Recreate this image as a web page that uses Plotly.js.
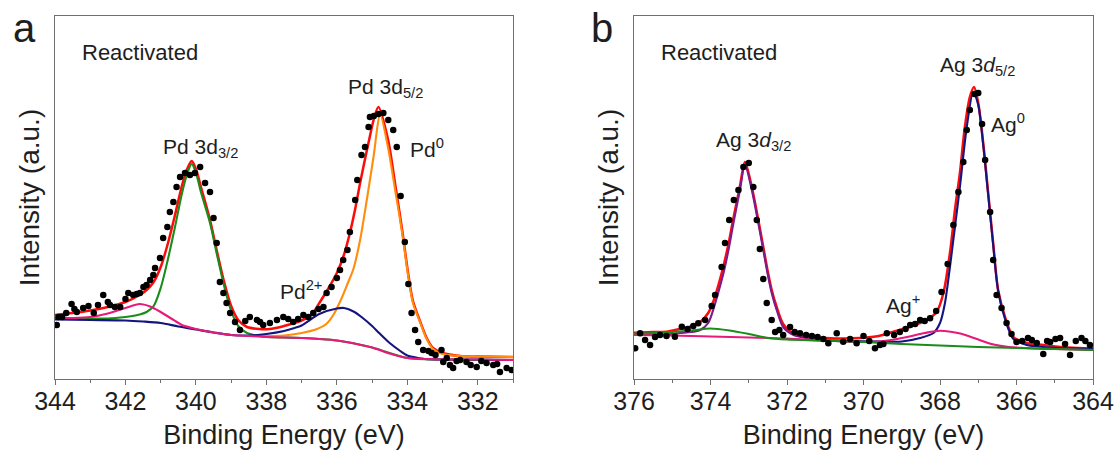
<!DOCTYPE html>
<html>
<head>
<meta charset="utf-8">
<script src="https://cdn.plot.ly/plotly-3.0.1.min.js"></script>
<style>html,body{margin:0;padding:0;background:#fff;}#chart{width:1118px;height:454px;}</style>
</head>
<body>
<div id="chart"></div>
<script>
// ---------- Panel a : Pd 3d ----------
const pdDotE = [343.95,343.9,343.8,343.68,343.53,343.45,343.38,343.2,343.05,342.9,342.78,342.63,342.5,342.44,342.3,342.15,342.0,341.92,341.78,341.68,341.59,341.49,341.4,341.3,341.21,341.16,341.02,340.93,340.81,340.74,340.64,340.55,340.45,340.31,340.17,340.03,339.88,339.74,339.6,339.5,339.41,339.32,339.22,339.13,339.03,338.89,338.75,338.6,338.47,338.27,338.18,338.09,337.9,337.7,337.52,337.38,337.24,337.1,336.95,336.81,336.67,336.52,336.38,336.29,336.15,336.0,335.91,335.82,335.7,335.63,335.48,335.42,335.3,335.2,335.1,335.06,334.95,334.82,334.68,334.54,334.4,334.3,334.19,334.07,333.97,333.88,333.78,333.69,333.55,333.4,333.31,333.2,333.03,332.98,332.88,332.79,332.7,332.6,332.5,332.32,332.2,332.03,331.9,331.75,331.56,331.45,331.37,331.18,331.04];
const pdDotI = [54,62,62,66,75,70,67,71,73,66,74,84,77,74,72,72,80,86,84,85,86,92,94,99,104,111,121,141,152,167,177,192,202,206,204,206,212,196,187,161,136,97,86,76,66,57,49,58,62,59,57,54,56,59,62,60,57,60,64,62,66,70,72,86,92,101,109,119,129,147,179,199,224,232,252,262,263,265,266,259,249,232,183,137,95,66,49,37,29,28,26,24,29,17,21,14,11,18,19,17,14,12,18,16,14,15,7,11,9];

const pdEnvE = [344,343.5,343,342.5,342,341.6,341.4,341.2,341.0,340.8,340.6,340.4,340.25,340.12,340.0,339.85,339.6,339.4,339.2,339.0,338.8,338.55,338.2,337.9,337.6,337.3,337.0,336.7,336.48,336.25,336.0,335.8,335.63,335.48,335.34,335.2,335.06,334.95,334.82,334.55,334.35,334.15,333.97,333.84,333.64,333.45,333.27,333.0,332.5,332.0,331.0];
const pdEnvI = [64,66,68.5,72,77,84,89,97,112,135,163,193,210,218,210,191,159,127,97,73,59,52,50,50,52,55,58.5,65,77,90,106,124,146,170,196,220,243,260,272,240,196,150,104,78,58,41,31,26,23,22.5,22];

const pd0d32E = [344,343,342.5,342,341.8,341.6,341.4,341.2,341.0,340.8,340.6,340.4,340.25,340.12,340.0,339.85,339.6,339.4,339.2,339.0,338.8,338.55,338.2,338,337.5,337,336,335,334,333,331];
const pd0d32I = [61,60.5,60.5,62,63,64.5,67,73,91,119,151,185,205,215,206,186,156,124,93,68,53,46,43,42,41.5,41,38.5,31.5,21,19.5,19];

const pd0d52E = [338.5,338,337.5,337.0,336.6,336.3,336.1,335.9,335.7,335.53,335.34,335.15,334.96,334.77,334.55,334.35,334.15,333.97,333.84,333.64,333.45,333.27,333.0,332.5,332.0,331.0];
const pd0d52I = [43.5,43,43.5,46,49.5,55,64,78,95,110,139,179,222,264,232,190,147,102,76,57,40,30,25,23,22.5,22];

const pd2d52E = [344,343,342,341.5,341,340.5,340,339.5,339,338.5,338,337.5,337.2,337,336.5,336,335.8,335.5,335.3,335,334.8,334.5,334.2,334,333.7,333.5,333,332,331];
const pd2d52I = [59.5,59,58.5,57.5,56,52.5,49.5,46.5,44,43.5,45,48,51,53.5,65,70.5,71,67,62,53,46,36,28,23.5,21,20,19.5,19.5,19];

const pd2d32E = [344,343.5,343,342.5,342,341.6,341.3,341,340.7,340.4,340,339.5,339,338.5,338,337,336.5,336,335.5,335,334.5,334,333.5,333,332,331];
const pd2d32I = [61,61,62,65.5,71,75,72.5,67,60.5,54,50,46.5,44,43,42,41,40,38.5,35.5,31.5,25.5,21,20,19.5,19.5,19];

// ---------- Panel b : Ag 3d ----------
const agDotE = [375.97,375.84,375.71,375.58,375.45,375.32,375.15,374.93,374.75,374.6,374.45,374.32,374.14,373.97,373.88,373.71,373.62,373.51,373.39,373.27,373.14,373.0,372.88,372.79,372.71,372.62,372.53,372.4,372.31,372.2,372.1,371.92,371.8,371.66,371.5,371.35,371.2,371.05,370.92,370.7,370.53,370.35,370.18,370.0,369.85,369.7,369.57,369.48,369.39,369.2,369.05,368.9,368.78,368.65,368.52,368.4,368.26,368.1,367.96,367.8,367.65,367.52,367.39,367.3,367.22,367.1,367.0,366.9,366.82,366.69,366.61,366.52,366.39,366.26,366.13,366.0,365.85,365.7,365.6,365.47,365.3,365.2,365.12,364.98,364.86,364.73,364.6,364.45,364.3,364.2,364.08];
const agDotI = [30.7,45.7,39,34,42,44,43,42.3,52.3,50,53,55.7,59,73,84,112,136,159,179,189,212,216,192,159,130,100,76,59,47,49,44,52,47,45.7,44,43,42,40,35.7,45.7,37.3,40,35.7,43,38,30.7,34,35,45.7,44,47,50,54,55,59,58,60.7,68,87,115,154,187,217,249,269,285,286,255,219,167,119,84,71,56,45,37,38,41,39,36,25,38,37,40,41,35,24,38,41,38,34];

const agEnvE = [376,375.5,375.15,374.8,374.6,374.27,374.06,373.93,373.8,373.66,373.53,373.4,373.23,373.1,372.92,372.75,372.62,372.51,372.4,372.27,372.1,371.83,371.4,371,370.5,370.09,369.6,369.22,368.78,368.35,368.09,367.91,367.74,367.61,367.48,367.35,367.22,367.11,367.0,366.87,366.74,366.61,366.48,366.3,366.08,365.73,365.3,364.86,364.4,364];
const agEnvI = [46.3,47,47.3,50,51.5,57,66,77,93,113,135,161,193,217,192,159,132,109,89,72,55,45.5,42,41,40.5,41,43,47.3,52.3,59,67,86,126,169,206,252,282,292,276,236,186,136,89,62,42,36,34,32,31,30.7];

const ag0d32E = [376,375,374.8,374.5,374.27,374.06,373.93,373.8,373.66,373.53,373.4,373.23,373.1,372.92,372.75,372.62,372.51,372.4,372.27,372.1,371.83,371.4,371,370];
const ag0d32I = [44.5,45,46,47,49,56,69,86,106,129,156,189,214,189,156,129,106,86,69,52,44,40.5,38.5,37];

const ag0d52E = [371.5,370.5,369.5,369.0,368.52,368.17,368.0,367.87,367.74,367.61,367.48,367.3,367.13,367.0,366.87,366.74,366.61,366.48,366.3,366.08,365.73,365.3,364.86,364.4,364];
const ag0d52I = [39,38,37.5,37.5,41,46,56,76,112,152,192,252,287,274,234,184,134,88,60,40,34,32,31,30.5,30];

const agpd52E = [376,375,374.5,374,373,372,371,370,369.6,369.2,368.8,368.4,368.0,367.5,367.0,366.6,366.2,365.5,365,364];
const agpd52I = [44,43.5,43,42.5,41.5,40.5,38.5,37,37.5,39.5,42.5,46,48.3,45.7,39.5,34.5,32,30.5,30,29];

const agpd32E = [376,375.5,375,374.5,374,373.5,373,372.5,372,371,370,369,368,367,366,365,364];
const agpd32I = [45.5,46,47,48.5,50.5,48.5,45,41,39.5,38.5,37,35,33.5,32,31,30,29];

const tickA = [344,342,340,338,336,334,332];
const tickB = [376,374,372,370,368,366,364];

// ---------- styles ----------
const C = {red:'#ff0a0a', green:'#1a8c1a', orange:'#ff8c0a', navy:'#141480', pink:'#e8197d', purple:'#7d1a8c', dot:'#000000', text:'#1e1e1e', axis:'#707070'};
const FONT = 'Liberation Sans, Arial, Helvetica, sans-serif';

function line(x, y, color, ax, w) {
  return {x:x, y:y, mode:'lines', type:'scatter', line:{color:color, width:w||2.1, shape:'spline', smoothing:0.8}, xaxis:ax[0], yaxis:ax[1], hoverinfo:'skip', showlegend:false};
}
function dots(x, y, ax) {
  return {x:x, y:y, mode:'markers', type:'scatter', marker:{color:C.dot, size:6.5}, xaxis:ax[0], yaxis:ax[1], hoverinfo:'skip', showlegend:false};
}
const A = ['x','y'], B = ['x2','y2'];

const data = [
  line(pdEnvE, pdEnvI, C.red, A, 2.5),
  line(pd0d32E, pd0d32I, C.green, A),
  line(pd0d52E, pd0d52I, C.orange, A),
  line(pd2d52E, pd2d52I, C.navy, A),
  line(pd2d32E, pd2d32I, C.pink, A),
  dots(pdDotE, pdDotI, A),
  line(agEnvE, agEnvI, C.red, B, 2.5),
  line(ag0d32E, ag0d32I, C.purple, B),
  line(ag0d52E, ag0d52I, C.navy, B),
  line(agpd52E, agpd52I, C.pink, B),
  line(agpd32E, agpd32I, C.green, B),
  dots(agDotE, agDotI, B)
];

const W = 1118, H = 454;
function xaxisDef(dom, range, ticks) {
  return {domain:dom, range:range, tickvals:ticks, ticks:'outside', ticklen:5, tickwidth:1, tickcolor:C.axis,
    minor:{dtick:1, ticks:'outside', ticklen:3, tickwidth:1, tickcolor:C.axis},
    showline:true, mirror:true, linecolor:C.axis, linewidth:1.3, showgrid:false, zeroline:false,
    tickfont:{family:FONT, size:25, color:C.text}, ticklabelstandoff:-5,
    title:{text:'Binding Energy (eV)', font:{family:FONT, size:27, color:C.text}, standoff:10}};
}
function yaxisDef(anchor) {
  return {domain:[(H-379)/H, (H-16)/H], range:[0,363], anchor:anchor, showticklabels:false, ticks:'', showline:true, mirror:true,
    linecolor:C.axis, linewidth:1.3, showgrid:false, zeroline:false,
    title:{text:'Intensity (a.u.)', font:{family:FONT, size:28, color:C.text}, standoff:6}};
}
function ann(text, px, baseline, size) {
  return {text:text, xref:'paper', yref:'paper', x:px/W, y:1-(baseline-0.35*size)/H, xanchor:'left', yanchor:'middle',
    showarrow:false, font:{family:FONT, size:size, color:C.text}, borderpad:0};
}
const layout = {
  width:W, height:H, margin:{l:0,r:0,t:0,b:0}, paper_bgcolor:'#fff', plot_bgcolor:'#fff', showlegend:false,
  xaxis: xaxisDef([55/W, 513/W], [344,331], tickA),
  yaxis: yaxisDef('x'),
  xaxis2: Object.assign(xaxisDef([634/W, 1093/W], [376,364], tickB), {anchor:'y2'}),
  yaxis2: yaxisDef('x2'),
  annotations: [
    ann('a', 12, 42, 40),
    ann('b', 590, 42, 40),
    ann('Reactivated', 81, 60, 22),
    ann('Reactivated', 660, 60, 22),
    ann('Pd 3d<sub>3/2</sub>', 162, 155, 21),
    ann('Pd 3d<sub>5/2</sub>', 347, 95, 21),
    ann('Pd<sup>0</sup>', 409, 155, 21),
    ann('Pd<sup>2+</sup>', 279, 297, 21),
    ann('Ag 3<i>d</i><sub>3/2</sub>', 715, 148, 21),
    ann('Ag 3<i>d</i><sub>5/2</sub>', 939, 73, 21),
    ann('Ag<sup>0</sup>', 990, 130, 21),
    ann('Ag<sup>+</sup>', 885, 311, 21)
  ]
};
Plotly.newPlot('chart', data, layout, {displayModeBar:false, staticPlot:true});
</script>
</body>
</html>
